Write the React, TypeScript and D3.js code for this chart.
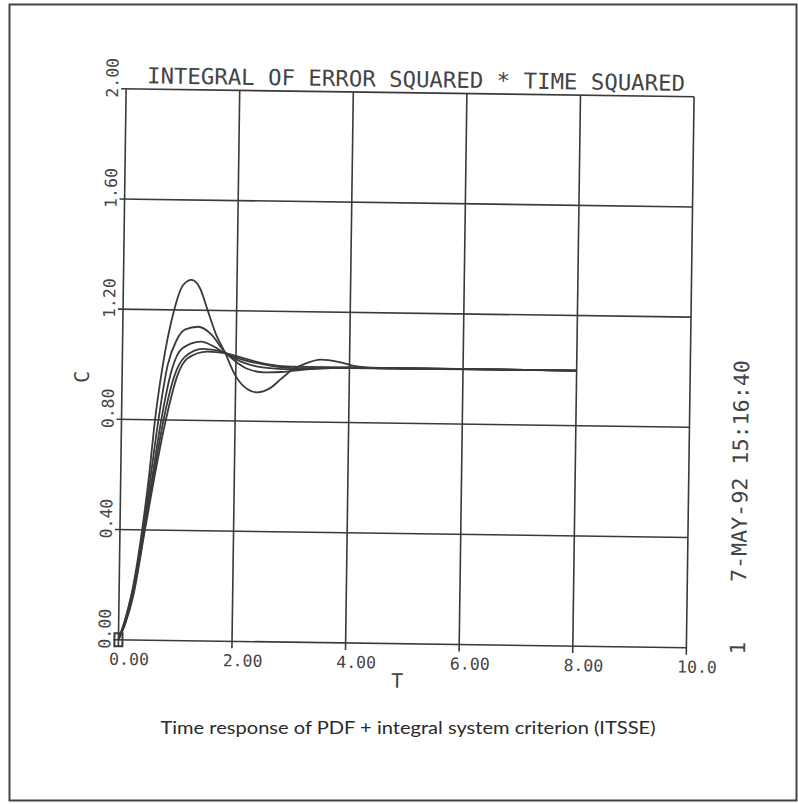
import React from "react";
import * as d3 from "d3";

// ---- axis ticks ----
const xTicks = [0, 2, 4, 6, 8, 10];
const xTickLabels = ["0.00", "2.00", "4.00", "6.00", "8.00", "10.0"];
const yTicks = [0, 0.4, 0.8, 1.2, 1.6, 2.0];
const yTickLabels = ["0.00", "0.40", "0.80", "1.20", "1.60", "2.00"];

// ---- series (time, response) ----
const tA = [0, 0.12, 0.25, 0.39, 0.5, 0.59, 0.7, 0.9, 1.05, 1.2, 1.35, 1.49, 1.65, 1.8, 1.98, 2.15, 2.38, 2.6, 2.8, 2.97, 3.2, 3.5, 3.8, 4.1, 4.5, 5, 6, 8];
const cA = [0, 0.08, 0.2, 0.4, 0.6, 0.8, 0.98, 1.2, 1.29, 1.31, 1.28, 1.2, 1.11, 1.05, 0.97, 0.925, 0.905, 0.92, 0.955, 0.985, 1.01, 1.027, 1.02, 1.005, 0.998, 0.998, 1.0, 1.0];

const tB = [0, 0.12, 0.25, 0.41, 0.53, 0.65, 0.8, 0.95, 1.1, 1.33, 1.55, 1.8, 2.0, 2.2, 2.5, 2.8, 3.2, 3.8, 5, 8];
const cB = [0, 0.075, 0.19, 0.4, 0.6, 0.8, 1.0, 1.09, 1.13, 1.14, 1.115, 1.05, 1.015, 0.99, 0.978, 0.98, 0.99, 0.998, 1.0, 1.0];

const tC = [0, 0.12, 0.25, 0.42, 0.56, 0.7, 0.87, 1.05, 1.38, 1.6, 1.8, 2.1, 2.5, 3, 3.5, 4, 8];
const cC = [0, 0.07, 0.18, 0.4, 0.6, 0.8, 0.98, 1.06, 1.086, 1.07, 1.045, 1.015, 0.995, 0.99, 0.995, 1.0, 1.0];

const tD = [0, 0.12, 0.25, 0.43, 0.58, 0.74, 0.92, 1.1, 1.42, 1.8, 2.0, 2.4, 3, 4, 8];
const cD = [0, 0.065, 0.17, 0.4, 0.6, 0.8, 0.96, 1.03, 1.06, 1.048, 1.03, 1.01, 0.995, 0.998, 1.0];

const tE = [0, 0.12, 0.25, 0.44, 0.6, 0.78, 0.97, 1.15, 1.5, 1.8, 2.1, 2.5, 3, 8];
const cE = [0, 0.06, 0.16, 0.4, 0.6, 0.8, 0.96, 1.025, 1.05, 1.046, 1.03, 1.01, 1.0, 1.0];

const seriesT = [tA, tB, tC, tD, tE];
const seriesC = [cA, cB, cC, cD, cE];

const titleText = "INTEGRAL OF ERROR SQUARED * TIME SQUARED";
const dateText = "7-MAY-92 15:16:40";
const captionText = "Time response of PDF + integral system criterion (ITSSE)";

export default function App() {
  const W = 798, H = 804;
  const left = 122.25, top = 92.75, pw = 568, ph = 551;
  const x = d3.scaleLinear().domain([0, 10]).range([left, left + pw]);
  const y = d3.scaleLinear().domain([0, 2]).range([top + ph, top]);
  const ink = "#3a3a3a";
  const mono = "'DejaVu Sans Mono', monospace";

  const line = d3
    .line<[number, number]>()
    .x((d) => x(d[0]))
    .y((d) => y(d[1]))
    .curve(d3.curveMonotoneX);

  return (
    <svg
      width={W}
      height={H}
      style={{ position: "absolute", left: 0, top: 0, background: "#fff" }}
    >
      <rect x={0} y={0} width={W} height={H} fill="#fff" />
      {/* outer print border */}
      <rect x={9.5} y={4.5} width={787} height={796} fill="none" stroke="#444" strokeWidth={2} />

      <g transform="rotate(0.8, 406.25, 368.25)">
        {/* vertical grid + ticks */}
        {xTicks.map((t) => (
          <line key={"vx" + t} x1={x(t)} x2={x(t)} y1={y(0) + 7} y2={y(2)} stroke={ink} strokeWidth={1.6} />
        ))}
        {/* horizontal grid + ticks */}
        {yTicks.map((v) => (
          <line key={"hy" + v} x1={x(0) - 5} x2={x(10)} y1={y(v)} y2={y(v)} stroke={ink} strokeWidth={1.6} />
        ))}

        {/* curves */}
        {seriesT.map((ts, i) => {
          const pts = ts.map((t, j) => [t, seriesC[i][j]] as [number, number]);
          return <path key={"s" + i} d={line(pts) || ""} fill="none" stroke={ink} strokeWidth={1.8} />;
        })}

        {/* origin marker */}
        <rect x={x(0) - 4} y={y(0) - 6.5} width={8} height={13} fill="none" stroke={ink} strokeWidth={2} />

        {/* x tick labels */}
        {xTicks.map((t, i) => (
          <text key={"xl" + t} x={x(t) - 9} y={y(0) + 25} fontFamily={mono} fontSize={16.5} fill="#444">
            {xTickLabels[i]}
          </text>
        ))}
        {/* y tick labels */}
        {yTicks.map((v, i) => (
          <text
            key={"yl" + v}
            transform={`translate(${x(0) - 8},${y(v) + 9}) rotate(-90)`}
            fontFamily={mono}
            fontSize={16.5}
            fill="#444"
          >
            {yTickLabels[i]}
          </text>
        ))}

        {/* axis titles */}
        <text x={401.5} y={688} textAnchor="middle" fontFamily={mono} fontSize={20} fill="#444">
          T
        </text>
        <text
          transform={`translate(89,381.5) rotate(-90)`}
          textAnchor="middle"
          fontFamily={mono}
          fontSize={20}
          fill="#444"
        >
          C
        </text>

        {/* title */}
        <text
          x={143}
          y={87}
          fontFamily={mono}
          fontSize={22}
          fill="#444"
          textLength={538}
          lengthAdjust="spacingAndGlyphs"
        >
          {titleText}
        </text>

        {/* date stamp */}
        <text
          transform={`translate(749,466.4) rotate(-90)`}
          textAnchor="middle"
          fontFamily={mono}
          fontSize={21}
          fill="#444"
          textLength={222}
          lengthAdjust="spacingAndGlyphs"
        >
          {dateText}
        </text>
        <text
          transform={`translate(749,643.4) rotate(-90)`}
          textAnchor="middle"
          fontFamily={mono}
          fontSize={21}
          fill="#444"
        >
          1
        </text>
      </g>

      {/* caption */}
      <text
        x={408}
        y={734}
        textAnchor="middle"
        fontFamily="Lato, 'Open Sans', sans-serif"
        fontSize={18}
        fill="#2a2a2a"
        textLength={495}
        lengthAdjust="spacingAndGlyphs"
      >
        {captionText}
      </text>
    </svg>
  );
}
